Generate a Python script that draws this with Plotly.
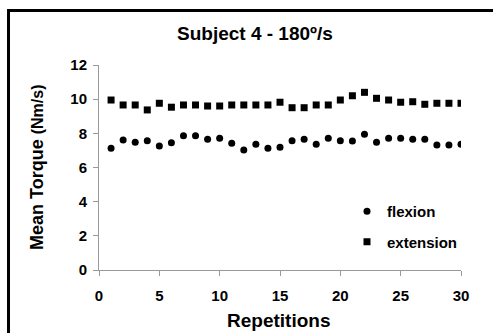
import plotly.graph_objects as go

repetitions = list(range(1, 31))
flexion = [7.12, 7.61, 7.48, 7.57, 7.26, 7.45, 7.86, 7.86, 7.65, 7.71,
           7.42, 7.03, 7.36, 7.12, 7.18, 7.57, 7.65, 7.36, 7.71, 7.57,
           7.55, 7.94, 7.48, 7.71, 7.71, 7.65, 7.65, 7.32, 7.32, 7.36]
extension = [9.95, 9.66, 9.66, 9.37, 9.76, 9.53, 9.66, 9.66, 9.60, 9.60,
             9.66, 9.66, 9.66, 9.66, 9.82, 9.50, 9.50, 9.66, 9.66, 9.95,
             10.20, 10.40, 10.05, 9.95, 9.82, 9.85, 9.70, 9.76, 9.76, 9.76]
x_ticks = [0, 5, 10, 15, 20, 25, 30]
y_ticks = [0, 2, 4, 6, 8, 10, 12]

FONT = "Arial"
W, H = 493, 333
L, R, T, B = 99, 32, 65, 63
pw, ph = W - L - R, H - T - B

fig = go.Figure()
fig.add_trace(go.Scatter(x=repetitions, y=flexion, mode="markers", name="<b>flexion</b>",
                         legendgroup="a",
                         marker=dict(symbol="circle", size=7, color="black")))
fig.add_trace(go.Scatter(x=repetitions, y=extension, mode="markers", name="<b>extension</b>",
                         legendgroup="b",
                         marker=dict(symbol="square", size=7, color="black")))

axis_common = dict(showgrid=False, zeroline=False, showline=True, linecolor="#999999",
                   linewidth=1, ticks="outside", tickcolor="#999999", ticklen=5,
                   tickfont=dict(family=FONT, size=15, color="black", weight=700))
fig.update_xaxes(range=[0, 30], tickvals=x_ticks, ticktext=[f"<b>{v}</b>" for v in x_ticks],
                 ticklabelstandoff=7, **axis_common)
fig.update_yaxes(range=[0, 12], tickvals=y_ticks, ticktext=[f"<b>{v}</b>" for v in y_ticks],
                 ticklabelstandoff=3, **axis_common)

def px_x(p):
    return (p - L) / pw

def px_y(p):
    return (H - B - p) / ph

# outer border (partially cropped on right/bottom)
fig.add_shape(type="rect", xref="paper", yref="paper",
              x0=px_x(8.5), x1=px_x(540), y0=px_y(380), y1=px_y(10.5),
              line=dict(color="black", width=3), fillcolor="rgba(0,0,0,0)", layer="above")

fig.add_annotation(text="<b>Subject 4 - 180º/s</b>", xref="paper", yref="paper",
                   x=px_x(255), y=px_y(33), showarrow=False, xanchor="center", yanchor="middle",
                   font=dict(family=FONT, size=19, color="black"))
fig.add_annotation(text="<b>Repetitions</b>", xref="paper", yref="paper",
                   x=px_x(278), y=px_y(320), showarrow=False, xanchor="center", yanchor="middle",
                   font=dict(family=FONT, size=19, color="black"))
fig.add_annotation(text="<b>Mean Torque</b> <span style='font-size:16px'><b>(Nm/s)</b></span>",
                   xref="paper", yref="paper", textangle=-90,
                   x=px_x(37), y=px_y(168), showarrow=False, xanchor="center", yanchor="middle",
                   font=dict(family=FONT, size=18, color="black"))

fig.update_layout(
    width=W, height=H, margin=dict(l=L, r=R, t=T, b=B),
    paper_bgcolor="white", plot_bgcolor="white",
    font=dict(family=FONT),
    showlegend=True,
    legend=dict(x=px_x(347), y=px_y(195), xanchor="left", yanchor="top",
                bgcolor="rgba(0,0,0,0)", traceorder="grouped", tracegroupgap=8,
                itemwidth=30,
                font=dict(family=FONT, size=15, color="black", weight=700)),
)
fig.write_html("out.html")
